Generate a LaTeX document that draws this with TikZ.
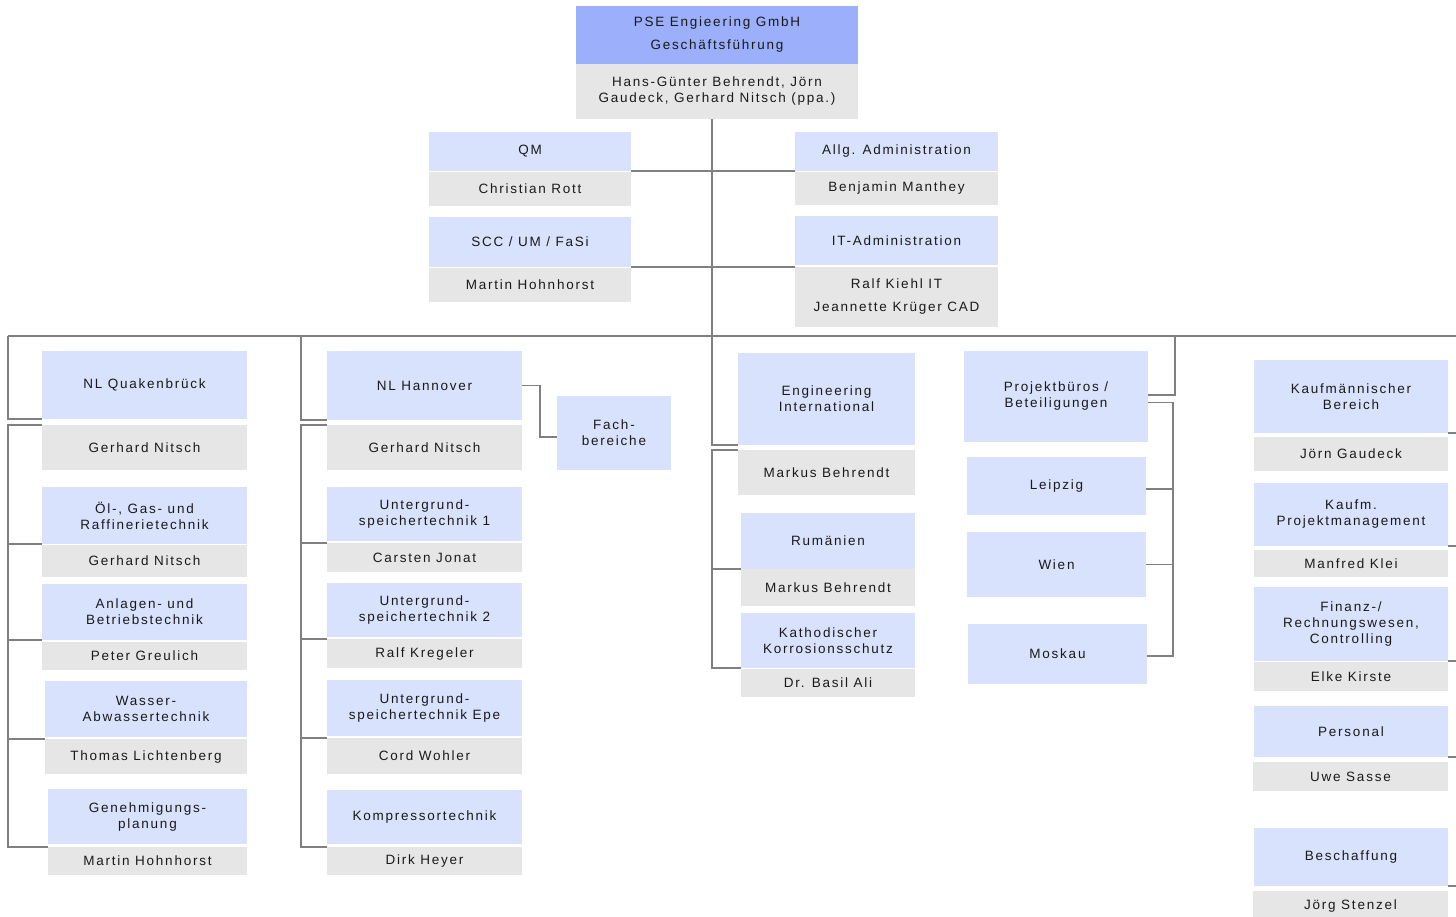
\documentclass[tikz,border=0pt]{standalone}
\usepackage{fontspec}
\setmainfont{Liberation Sans}[LetterSpace=13]
\definecolor{topblue}{HTML}{9BAFFA}
\definecolor{lblue}{HTML}{D9E2FC}
\definecolor{lgray}{HTML}{E6E6E6}
\definecolor{lnc}{HTML}{808080}
\definecolor{txt}{HTML}{1A1A1A}
\newcommand\ub[7]{\node[#2,anchor=north west,minimum width={(#5-#3)*1pt},minimum height={(#6-#4)*1pt}] (#1) at (#3,#4) {#7};}
\begin{document}
\begin{tikzpicture}[x=1pt,y=-1pt,
  every node/.style={inner sep=0pt,outer sep=0pt,align=center,text=txt,font=\fontsize{13.5}{16}\selectfont},
  hbox/.style={fill=topblue},
  bbox/.style={fill=lblue},
  gbox/.style={fill=lgray},
  conn/.style={draw=lnc,line width=1.3pt}]
\useasboundingbox (0,0) rectangle (1456,916);
% top
\ub{top}{hbox}{576}{6}{858}{64}{PSE Engieering GmbH\\[7pt]Geschäftsführung}
\ub{topg}{gbox}{576}{64}{858}{119}{Hans-Günter Behrendt, Jörn\\Gaudeck, Gerhard Nitsch (ppa.)}
\ub{qm}{bbox}{429}{132}{631}{171}{QM}
\ub{qmg}{gbox}{429}{172}{631}{206}{Christian Rott}
\ub{allg}{bbox}{795}{132}{998}{171}{Allg. Administration}
\ub{allgg}{gbox}{795}{172}{998}{205}{Benjamin Manthey}
\ub{scc}{bbox}{429}{217}{631}{267}{SCC / UM / FaSi}
\ub{sccg}{gbox}{429}{268}{631}{302}{Martin Hohnhorst}
\ub{it}{bbox}{795}{216}{998}{265}{IT-Administration}
\ub{itg}{gbox}{795}{267}{998}{327}{Ralf Kiehl IT\\[7pt]Jeannette Krüger CAD}
% column 1
\ub{nlq}{bbox}{42}{351}{247}{419}{NL Quakenbrück}
\ub{nlqg}{gbox}{42}{425}{247}{470}{Gerhard Nitsch}
\ub{oel}{bbox}{42}{487}{247}{544}{Öl-, Gas- und\\Raffinerietechnik}
\ub{oelg}{gbox}{42}{545}{247}{577}{Gerhard Nitsch}
\ub{anl}{bbox}{42}{584}{247}{640}{Anlagen- und\\Betriebstechnik}
\ub{anlg}{gbox}{42}{642}{247}{670}{Peter Greulich}
\ub{was}{bbox}{45}{681}{247}{737}{Wasser-\\Abwassertechnik}
\ub{wasg}{gbox}{45}{739}{247}{774}{Thomas Lichtenberg}
\ub{gen}{bbox}{48}{789}{247}{844}{Genehmigungs-\\planung}
\ub{geng}{gbox}{48}{847}{247}{875}{Martin Hohnhorst}
% column 2
\ub{nlh}{bbox}{327}{351}{522}{420}{NL Hannover}
\ub{nlhg}{gbox}{327}{425}{522}{470}{Gerhard Nitsch}
\ub{fach}{bbox}{557}{396}{671}{470}{Fach-\\bereiche}
\ub{u1}{bbox}{327}{487}{522}{541}{Untergrund-\\speichertechnik 1}
\ub{u1g}{gbox}{327}{543}{522}{572}{Carsten Jonat}
\ub{u2}{bbox}{327}{583}{522}{637}{Untergrund-\\speichertechnik 2}
\ub{u2g}{gbox}{327}{639}{522}{668}{Ralf Kregeler}
\ub{ue}{bbox}{327}{680}{522}{736}{Untergrund-\\speichertechnik Epe}
\ub{ueg}{gbox}{327}{738}{522}{774}{Cord Wohler}
\ub{kt}{bbox}{327}{790}{522}{844}{Kompressortechnik}
\ub{ktg}{gbox}{327}{847}{522}{875}{Dirk Heyer}
% column 3
\ub{eng}{bbox}{738}{353}{915}{445}{Engineering\\International}
\ub{engg}{gbox}{738}{450}{915}{495}{Markus Behrendt}
\ub{rum}{bbox}{741}{513}{915}{569}{Rumänien}
\ub{rumg}{gbox}{741}{569}{915}{606}{Markus Behrendt}
\ub{kat}{bbox}{741}{613}{915}{668}{Kathodischer\\Korrosionsschutz}
\ub{katg}{gbox}{741}{669}{915}{697}{Dr. Basil Ali}
% column 4
\ub{pb}{bbox}{964}{351}{1148}{442}{Projektbüros /\\Beteiligungen}
\ub{lei}{bbox}{967}{457}{1146}{515}{Leipzig}
\ub{wien}{bbox}{967}{532}{1146}{597}{Wien}
\ub{mos}{bbox}{968}{624}{1147}{684}{Moskau}
% column 5
\ub{kb}{bbox}{1254}{360}{1448}{433}{Kaufmännischer\\Bereich}
\ub{kbg}{gbox}{1254}{437}{1448}{471}{Jörn Gaudeck}
\ub{kpm}{bbox}{1254}{483}{1448}{546}{Kaufm.\\Projektmanagement}
\ub{kpmg}{gbox}{1254}{550}{1448}{577}{Manfred Klei}
\ub{fin}{bbox}{1254}{587}{1448}{661}{Finanz-/\\Rechnungswesen,\\Controlling}
\ub{fing}{gbox}{1254}{662}{1448}{691}{Elke Kirste}
\ub{pers}{bbox}{1254}{706}{1448}{757}{Personal}
\ub{persg}{gbox}{1253}{762}{1448}{791}{Uwe Sasse}
\ub{bes}{bbox}{1254}{828}{1448}{886}{Beschaffung}
\ub{besg}{gbox}{1253}{891}{1448}{921}{Jörg Stenzel}
% helper coordinates
\coordinate (tx) at (712,0);
\coordinate (hl) at (8,336);
\coordinate (h2) at (301,336);
\coordinate (h4) at (1175,336);
\coordinate (hr) at (1456,336);
\coordinate (fx) at (540,0);
\coordinate (px) at (1173,0);
\coordinate (edge) at (1456,0);
\coordinate (pbA) at ([yshift=1.5pt]pb.east);
\coordinate (pbB) at ([yshift=-6pt]pb.east);
\coordinate (fachW) at ([yshift=-4pt]fach.west);
\coordinate (leiE) at ([yshift=-3pt]lei.east);
\coordinate (mosE) at ([yshift=-2pt]mos.east);
% connectors
\draw[conn] (topg.south -| tx) |- (eng.south west);
\draw[conn] (qm.south east) -- (allg.south west);
\draw[conn] (scc.south east) -- (scc.south east -| itg.west);
\draw[conn] (hl) -- (hr);
\draw[conn] (hl) |- (nlq.south west);
\draw[conn] (h2) |- (nlh.south west);
\draw[conn] (h4) |- (pbA);
\draw[conn] (nlh.east) -- (nlh.east -| fx) |- (fachW);
% bracket column 1
\draw[conn] (nlqg.north west) -- (nlqg.north west -| hl) -- (hl |- geng.north west) -- (geng.north west);
\draw[conn] (oel.south west -| hl) -- (oel.south west);
\draw[conn] (anl.south west -| hl) -- (anl.south west);
\draw[conn] (wasg.north west -| hl) -- (wasg.north west);
% bracket column 2
\draw[conn] (nlhg.north west) -- (nlhg.north west -| h2) -- (h2 |- ktg.north west) -- (ktg.north west);
\draw[conn] (u1g.north west -| h2) -- (u1g.north west);
\draw[conn] (u2g.north west -| h2) -- (u2g.north west);
\draw[conn] (ueg.north west -| h2) -- (ueg.north west);
% bracket column 3
\draw[conn] (engg.north west) -- (engg.north west -| tx) -- (tx |- kat.south west) -- (kat.south west);
\draw[conn] (rum.south west -| tx) -- (rum.south west);
% bracket column 4
\draw[conn] (pbB) -- (pbB -| px) -- (px |- mosE) -- (mosE);
\draw[conn] (leiE) -- (leiE -| px);
\draw[conn] (wien.east) -- (wien.east -| px);
% column 5 ticks
\draw[conn] (kb.south east) -- (kb.south east -| edge);
\draw[conn] (kpm.south east) -- (kpm.south east -| edge);
\draw[conn] (fin.south east) -- (fin.south east -| edge);
\draw[conn] (pers.south east) -- (pers.south east -| edge);
\draw[conn] (bes.south east) -- (bes.south east -| edge);
\end{tikzpicture}
\end{document}
